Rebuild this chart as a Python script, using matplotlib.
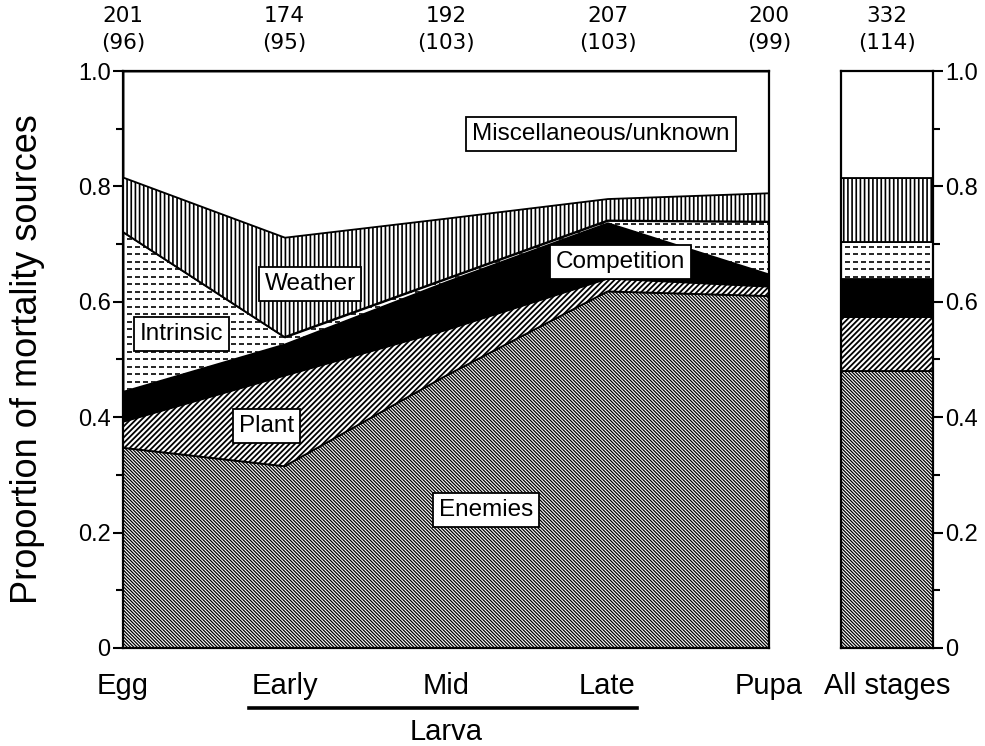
import numpy as np
import matplotlib.pyplot as plt
from matplotlib import transforms
from matplotlib.ticker import MultipleLocator, FuncFormatter

plt.rcParams['font.family'] = ['Liberation Sans', 'DejaVu Sans']
plt.rcParams['hatch.linewidth'] = 1.0

# --- data (proportion of deaths by source, per stage) ---
stages = ['Egg', 'Early', 'Mid', 'Late', 'Pupa']
stage_n = ['201\n(96)', '174\n(95)', '192\n(103)', '207\n(103)', '200\n(99)']
all_label = 'All stages'
all_n = '332\n(114)'

sources = ['Enemies', 'Plant', 'Competition', 'Intrinsic', 'Weather',
           'Miscellaneous/unknown']
enemies = [0.347, 0.315, 0.472, 0.618, 0.610]
plant = [0.046, 0.158, 0.080, 0.023, 0.017]
competition = [0.052, 0.054, 0.083, 0.096, 0.021]
intrinsic = [0.276, 0.012, 0.005, 0.004, 0.091]
weather = [0.095, 0.173, 0.105, 0.038, 0.050]
all_stages = [0.480, 0.094, 0.065, 0.064, 0.111]

# misc/unknown is whatever is left over
layers = [enemies, plant, competition, intrinsic, weather]
misc = 1 - np.sum(layers, axis=0)
layers.append(list(misc))
all_stages = all_stages + [1 - sum(all_stages)]

# --- styles ---
faces = ['white', 'white', 'black', 'white', 'white', 'white']
hatches = ['\\' * 10, '/' * 6, None, None, '||||', None]
hatch_lw = [0.9, 1.3, 1.0, 1.0, 1.2, 1.0]
label_pos = [(2.25, 0.239), (0.886, 0.385), (3.08, 0.669), (0.36, 0.544),
             (1.158, 0.631), (2.96, 0.891)]


def dash_fill(ax, clip_patch, clip_trans):
    # dashed horizontal lines for the "intrinsic" band
    ys = np.arange(0.006, 1.0, 0.013)
    lc = ax.hlines(ys, -1, 6, colors='black', linewidth=1.2,
                   linestyles=[(0, (3, 1.8))])
    lc.set_clip_path(clip_patch, clip_trans)


def set_hlw(artist, lw):
    if hasattr(artist, 'set_hatch_linewidth'):
        artist.set_hatch_linewidth(lw)


fig = plt.figure(figsize=(9.85, 7.46), dpi=100)
ax = fig.add_axes([0.1249, 0.1314, 0.6558, 0.7734])
ax2 = fig.add_axes([0.8538, 0.1314, 0.0934, 0.7734])

x = np.arange(len(stages))
bottom = np.zeros(len(stages))
for i, vals in enumerate(layers):
    top = bottom + np.array(vals)
    poly = ax.fill_between(x, bottom, top, facecolor=faces[i],
                           hatch=hatches[i], edgecolor='black',
                           linewidth=1.3, zorder=2)
    set_hlw(poly, hatch_lw[i])
    if sources[i] == 'Intrinsic':
        dash_fill(ax, poly.get_paths()[0], ax.transData)
    bottom = top

# "All stages" bar
b = 0
for i, v in enumerate(all_stages):
    bars = ax2.bar(0.5, v, bottom=b, width=1.0, facecolor=faces[i],
                   hatch=hatches[i], edgecolor='black', linewidth=1.3,
                   zorder=2)
    set_hlw(bars[0], hatch_lw[i])
    if sources[i] == 'Intrinsic':
        dash_fill(ax2, bars[0], None)
    b += v

# labels in white boxes
for name, (lx, ly) in zip(sources, label_pos):
    ax.text(lx, ly, name, ha='center', va='center', fontsize=17.5, zorder=5,
            bbox=dict(boxstyle='square,pad=0.24', facecolor='white',
                      edgecolor='black', linewidth=1.3))

fmt = FuncFormatter(lambda v, p: '0' if v == 0 else f'{v:.1f}')
for a in (ax, ax2):
    a.set_ylim(0, 1)
    a.yaxis.set_major_locator(MultipleLocator(0.2))
    a.yaxis.set_minor_locator(MultipleLocator(0.1))
    a.yaxis.set_major_formatter(fmt)
    for s in a.spines.values():
        s.set_linewidth(1.6)
        s.set_zorder(4)
    a.tick_params(axis='y', which='major', length=7, width=1.5,
                  labelsize=17, pad=2)
    a.tick_params(axis='y', which='minor', length=5, width=1.5)
    a.tick_params(axis='x', length=0, labelsize=21, pad=17)

ax.set_xlim(0, len(stages) - 1)
ax.set_xticks(x)
ax.set_xticklabels(stages)

ax2.set_xlim(0, 1)
ax2.set_xticks([0.5])
ax2.set_xticklabels([all_label])
ax2.yaxis.tick_right()

# sample sizes above each stage
tr = transforms.blended_transform_factory(ax.transData, fig.transFigure)
for xi, txt in zip(x, stage_n):
    ax.text(xi, 0.96, txt, transform=tr, ha='center', va='center',
            fontsize=15.5, linespacing=1.45,
            family=['Liberation Sans Narrow', 'DejaVu Sans'])
tr2 = transforms.blended_transform_factory(ax2.transData, fig.transFigure)
ax2.text(0.5, 0.96, all_n, transform=tr2, ha='center', va='center',
         fontsize=15.5, linespacing=1.45,
         family=['Liberation Sans Narrow', 'DejaVu Sans'])

# larva bracket
ax.plot([0.78, 3.18], [0.051, 0.051], transform=tr, color='black',
        linewidth=2.6, clip_on=False)
ax.text(2.0, 0.008, 'Larva', transform=tr, ha='center', va='baseline',
        fontsize=21)

fig.text(0.028, 0.518, 'Proportion of mortality sources', rotation=90,
         ha='center', va='center', fontsize=26)

fig.savefig('out.png', dpi=100)
